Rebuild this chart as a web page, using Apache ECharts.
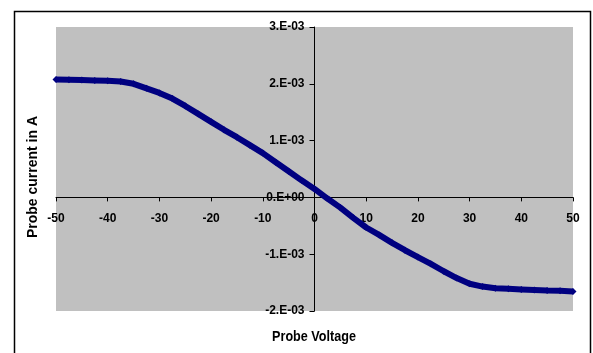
<!DOCTYPE html>
<html>
<head>
<meta charset="utf-8">
<script src="https://cdn.jsdelivr.net/npm/echarts@6/dist/echarts.min.js"></script>
<style>
  html, body { margin: 0; padding: 0; background: #ffffff; }
  #chart { width: 593px; height: 353px; }
</style>
</head>
<body>
<div id="chart"></div>
<script>
const voltage = [-50, -47.5, -45, -42.5, -40, -37.5, -35, -32.5, -30, -27.5, -25, -22.5, -20, -17.5, -15, -12.5, -10, -7.5, -5, -2.5,
  0, 2.5, 5, 7.5, 10, 12.5, 15, 17.5, 20, 22.5, 25, 27.5, 30, 32.5, 35, 37.5, 40, 42.5, 45, 47.5, 50];
const current = [2.075e-3, 2.07e-3, 2.065e-3, 2.06e-3, 2.055e-3, 2.04e-3, 2.0e-3, 1.92e-3, 1.84e-3, 1.74e-3, 1.61e-3, 1.47e-3, 1.33e-3, 1.19e-3, 1.06e-3, 0.92e-3, 0.78e-3, 0.62e-3, 0.46e-3, 0.30e-3,
  0.15e-3, -0.02e-3, -0.18e-3, -0.36e-3, -0.53e-3, -0.66e-3, -0.80e-3, -0.93e-3, -1.05e-3, -1.17e-3, -1.30e-3, -1.42e-3, -1.52e-3, -1.57e-3, -1.60e-3, -1.61e-3, -1.62e-3, -1.63e-3, -1.64e-3, -1.645e-3, -1.655e-3];
const yTickLabels = ['-2.E-03', '-1.E-03', '0.E+00', '1.E-03', '2.E-03', '3.E-03'];

const chart = echarts.init(document.getElementById('chart'));
const font = '"Liberation Sans", Arial, sans-serif';

// grid box: 56..573 horizontally, 27..311 vertically
// axes cross at (0, 0), so shift each axis inward by an offset
const gridLeft = 56, gridRight = 20, gridTop = 27, gridBottom = 42;
const plotW = 593 - gridLeft - gridRight;
const plotH = 353 - gridTop - gridBottom;
const yAxisOffset = -plotW * (0 - -50) / 100;
const xAxisOffset = -plotH * (0 - -0.002) / 0.005;

chart.setOption({
  animation: false,
  backgroundColor: '#ffffff',
  grid: {
    left: gridLeft, right: gridRight, top: gridTop, bottom: gridBottom,
    show: true, backgroundColor: '#c0c0c0', borderWidth: 0
  },
  xAxis: {
    type: 'value',
    position: 'bottom',
    offset: xAxisOffset,
    min: -50, max: 50, interval: 10,
    axisLine: { onZero: false, lineStyle: { color: '#000000', width: 1 } },
    axisTick: { show: true, length: 4, lineStyle: { color: '#000000' } },
    axisLabel: {
      color: '#000000', fontFamily: font, fontWeight: 'bold', fontSize: 12, margin: 15
    },
    splitLine: { show: false }
  },
  yAxis: {
    type: 'value',
    position: 'left',
    offset: yAxisOffset,
    min: -0.002, max: 0.003, interval: 0.001,
    axisLine: { show: true, onZero: false, lineStyle: { color: '#000000', width: 1 } },
    axisTick: { show: true, length: 5, lineStyle: { color: '#000000' } },
    axisLabel: {
      color: '#000000', fontFamily: font, fontWeight: 'bold', fontSize: 12, margin: 10,
      formatter: (v, i) => yTickLabels[i]
    },
    splitLine: { show: false }
  },
  series: [{
    type: 'line',
    data: voltage.map((v, i) => [v, current[i]]),
    lineStyle: { color: '#000080', width: 6 },
    itemStyle: { color: '#000080' },
    symbol: 'diamond',
    symbolSize: 7,
    showAllSymbol: true
  }],
  graphic: [
    {
      type: 'rect', left: 12, top: 9, silent: true,
      shape: { width: 576, height: 360 },
      style: { fill: 'none', stroke: '#000000', lineWidth: 1.5 }
    },
    {
      type: 'text', x: 314, y: 337, scaleX: 0.9,
      style: {
        text: 'Probe Voltage', fill: '#000000', font: 'bold 14px ' + font,
        textAlign: 'center', textVerticalAlign: 'middle'
      }
    },
    {
      type: 'text', x: 33, y: 177, rotation: Math.PI / 2,
      style: {
        text: 'Probe current in A', fill: '#000000', font: 'bold 14px ' + font,
        textAlign: 'center', textVerticalAlign: 'middle'
      }
    }
  ]
});
</script>
</body>
</html>
